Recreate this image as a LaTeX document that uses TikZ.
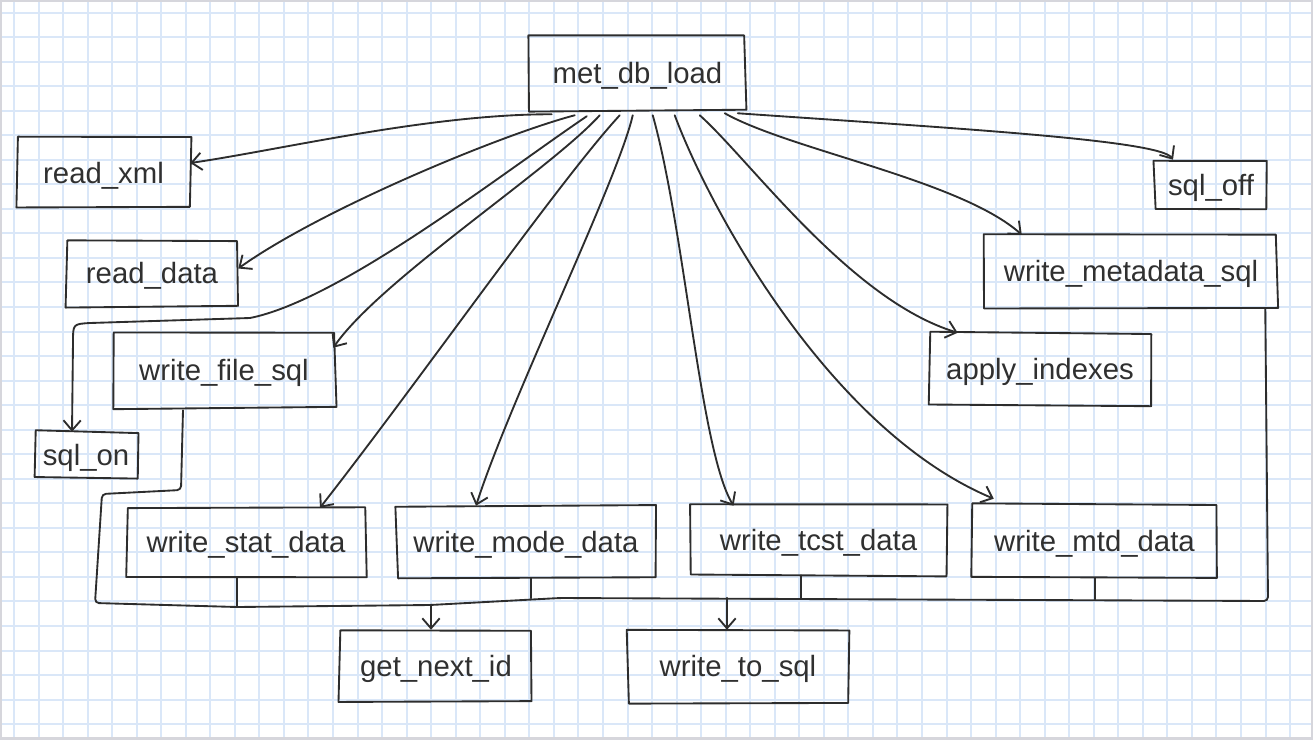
\documentclass[tikz,border=0pt]{standalone}
\usepackage{fontspec}
\setmainfont{Liberation Sans}
\usetikzlibrary{arrows.meta,calc}
\definecolor{gridc}{RGB}{218,231,248}
\definecolor{ink}{RGB}{45,45,45}
\definecolor{txt}{RGB}{48,48,48}
\definecolor{framec}{RGB}{214,214,220}
\begin{document}
\begin{tikzpicture}[x=0.75pt,y=-0.75pt,
  box/.style 2 args={inner sep=0pt, minimum width=#1*0.75pt, minimum height=#2*0.75pt,
     text height=18.5pt, text depth=3.5pt, text=txt, font=\fontsize{22}{26}\selectfont},
  conn/.style={draw=ink, line width=1.4pt, line cap=round, line join=round},
  arr/.style={conn, -{Straight Barb[length=7.5pt,width=13pt]}},
  gridl/.style={draw=gridc, line width=1.5pt}]
\useasboundingbox (0,0) rectangle (1313,739);
% grid paper
\foreach \i in {0,...,53} \draw[gridl] ({14+24.54*\i},0) -- ({14+24.54*\i},739);
\foreach \j in {0,...,29} \draw[gridl] (0,{12.5+24.54*\j}) -- (1313,{12.5+24.54*\j});
\draw[draw=framec, line width=3pt] (0,0) rectangle (1313,739);

% nodes
\node[box={215}{73}] (met)   at (637.5,73.5) {met\_db\_load};
\node[box={173}{70}] (rxml)  at (103.5,173)  {read\_xml};
\node[box={170}{65}] (rdata) at (152,273.5)  {read\_data};
\node[box={222}{75}] (wfs)   at (224,370.5)  {write\_file\_sql};
\node[box={102}{46}] (son)   at (86,455)     {sql\_on};
\node[box={112}{50}] (soff)  at (1211,185)   {sql\_off};
\node[box={292}{72}] (wmeta) at (1131,271)   {write\_metadata\_sql};
\node[box={220}{72}] (apx)   at (1040,369)   {apply\_indexes};
\node[box={238}{69}] (wstat) at (246,542.5)  {write\_stat\_data};
\node[box={258}{72}] (wmode) at (526,542)    {write\_mode\_data};
\node[box={257}{70}] (wtcst) at (818.5,540)  {write\_tcst\_data};
\node[box={245}{73}] (wmtd)  at (1094.5,541.5) {write\_mtd\_data};
\node[box={192}{72}] (gni)   at (436,666)    {get\_next\_id};
\node[box={220}{72}] (wts)   at (738,666)    {write\_to\_sql};

% hand-drawn outlines
\pgfmathsetseed{5}
\foreach \n in {met,rxml,rdata,wfs,son,soff,wmeta,apx,wstat,wmode,wtcst,wmtd,gni,wts}{
  \draw[conn] ($(\n.north west)+(1.5*rand,1.5*rand)$) -- ($(\n.north east)+(1.5*rand,1.5*rand)$)
     -- ($(\n.south east)+(1.5*rand,1.5*rand)$) -- ($(\n.south west)+(1.5*rand,1.5*rand)$) -- cycle;
}

% connectors from met_db_load
\draw[arr] ($(met.south west)+(22,4)$) .. controls (430,114) and (280,150) .. ($(rxml.east)+(0,-10)$);
\draw[arr] ($(met.south west)+(45,5)$) .. controls (500,135) and (320,210) .. ($(rdata.east)+(1,-5)$);
\draw[arr] ($(met.south west)+(57,6)$) .. controls (500,175) and (340,300) .. (250,318)
     -- (90,323) .. controls (73,324) .. (73,342) -- ($(son.north)+(-14,0)$);
\draw[arr] ($(met.south west)+(70,5)$) .. controls (550,170) and (380,280) .. ($(wfs.north east)+(-2,15)$);
\draw[arr] ($(met.south west)+(90,5)$) .. controls (560,180) and (420,380) .. ($(wstat.north)+(74,0)$);
\draw[arr] ($(met.south west)+(103,5)$) .. controls (618,180) and (510,400) .. ($(wmode.north)+(-50,0)$);
\draw[arr] ($(met.south west)+(123,5)$) .. controls (685,230) and (700,450) .. ($(wtcst.north)+(-85,1)$);
\draw[arr] ($(met.south west)+(145,5)$) .. controls (710,210) and (830,430) .. ($(wmtd.north west)+(22,-6)$);
\draw[arr] ($(met.south west)+(170,5)$) .. controls (750,160) and (850,300) .. ($(apx.north west)+(28,0)$);
\draw[arr] ($(met.south west)+(195,3)$) .. controls (790,150) and (960,180) .. ($(wmeta.north west)+(37,0)$);
\draw[arr] ($(met.south west)+(208,3)$) .. controls (950,128) and (1160,140) .. ($(soff.north)+(-38,0)$);

% shared bus to get_next_id / write_to_sql
\draw[conn, rounded corners=3pt] ($(wfs.south)+(-41,2)$) -- (181,490) -- (102,494) -- (95,603)
     -- (237,607) -- (430,605) -- (560,598) -- (1268,601) -- ($(wmeta.south east)+(-12,1)$);
\draw[conn] ($(wstat.south)+(-9,0)$) -- ++(0,30);
\draw[conn] ($(wmode.south)+(5,0)$) -- ++(0,20);
\draw[conn] ($(wtcst.south)+(-17.5,0)$) -- ++(0,23);
\draw[conn] ($(wmtd.south)+(0.5,0)$) -- ++(0,21);
\draw[arr] ($(gni.north)+(-5,-25)$) -- ($(gni.north)+(-5,0)$);
\draw[arr] ($(wts.north)+(-11,-32)$) -- ($(wts.north)+(-11,0)$);
\end{tikzpicture}
\end{document}
